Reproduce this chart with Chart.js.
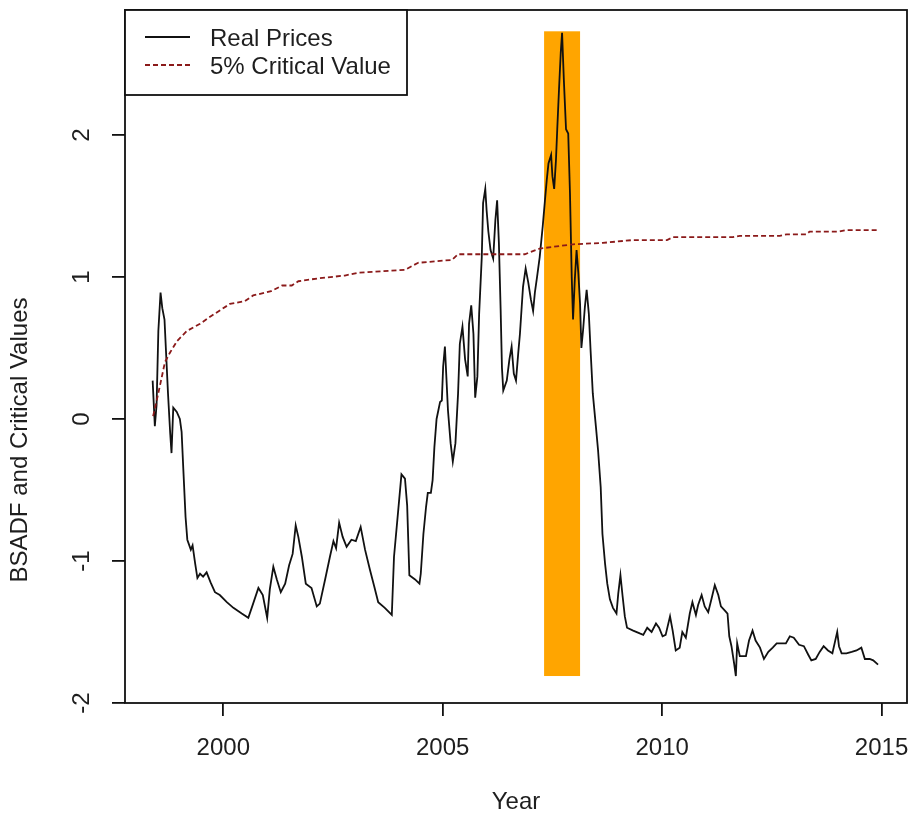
<!DOCTYPE html>
<html><head><meta charset="utf-8">
<script src="https://cdn.jsdelivr.net/npm/chart.js@4.4.1/dist/chart.umd.min.js"></script>
<style>html,body{margin:0;padding:0;background:#fff;} canvas{display:block;}</style>
</head><body>
<canvas id="c" width="914" height="822"></canvas>
<script>
const years = [1998.39,1998.44,1998.48,1998.52,1998.57,1998.61,1998.66,1998.70,1998.74,1998.79,1998.82,1998.86,1998.94,1999.01,1999.05,1999.09,1999.14,1999.18,1999.26,1999.30,1999.36,1999.41,1999.47,1999.54,1999.62,1999.71,1999.81,1999.92,2000.08,2000.23,2000.42,2000.57,2000.68,2000.80,2000.90,2001.00,2001.06,2001.14,2001.22,2001.31,2001.41,2001.50,2001.58,2001.65,2001.71,2001.79,2001.88,2002.01,2002.13,2002.20,2002.32,2002.43,2002.51,2002.57,2002.64,2002.72,2002.81,2002.92,2003.02,2003.13,2003.23,2003.34,2003.44,2003.53,2003.68,2003.84,2003.89,2003.99,2004.06,2004.14,2004.19,2004.24,2004.37,2004.47,2004.50,2004.56,2004.62,2004.66,2004.73,2004.77,2004.81,2004.86,2004.90,2004.94,2004.98,2005.01,2005.05,2005.12,2005.18,2005.23,2005.29,2005.35,2005.39,2005.45,2005.51,2005.57,2005.60,2005.65,2005.70,2005.74,2005.79,2005.83,2005.89,2005.92,2005.97,2006.00,2006.04,2006.09,2006.15,2006.20,2006.24,2006.28,2006.32,2006.35,2006.38,2006.46,2006.52,2006.57,2006.62,2006.67,2006.72,2006.76,2006.80,2006.83,2006.89,2006.95,2007.01,2007.06,2007.10,2007.15,2007.21,2007.28,2007.33,2007.37,2007.41,2007.47,2007.50,2007.54,2007.58,2007.61,2007.65,2007.69,2007.72,2007.76,2007.81,2007.86,2007.90,2007.94,2007.97,2008.01,2008.05,2008.09,2008.13,2008.16,2008.20,2008.24,2008.28,2008.33,2008.37,2008.42,2008.49,2008.54,2008.60,2008.64,2008.70,2008.75,2008.81,2008.88,2008.96,2009.00,2009.05,2009.10,2009.15,2009.20,2009.34,2009.49,2009.57,2009.66,2009.76,2009.86,2009.93,2010.01,2010.08,2010.18,2010.24,2010.31,2010.40,2010.46,2010.54,2010.63,2010.69,2010.77,2010.82,2010.90,2010.97,2011.05,2011.13,2011.20,2011.28,2011.34,2011.43,2011.49,2011.53,2011.58,2011.64,2011.68,2011.71,2011.77,2011.83,2011.91,2011.98,2012.06,2012.13,2012.23,2012.32,2012.42,2012.52,2012.61,2012.72,2012.82,2012.91,2013.00,2013.12,2013.23,2013.33,2013.40,2013.50,2013.59,2013.68,2013.78,2013.88,2013.96,2013.99,2014.03,2014.09,2014.20,2014.32,2014.43,2014.54,2014.62,2014.73,2014.81,2014.92];
const realPrices = [0.27,-0.05,0.10,0.62,0.89,0.78,0.70,0.44,0.18,-0.10,-0.24,0.08,0.05,0.00,-0.09,-0.36,-0.69,-0.85,-0.92,-0.89,-1.02,-1.12,-1.09,-1.11,-1.08,-1.15,-1.22,-1.24,-1.29,-1.33,-1.37,-1.40,-1.30,-1.19,-1.24,-1.40,-1.20,-1.04,-1.13,-1.22,-1.16,-1.03,-0.95,-0.75,-0.83,-0.97,-1.16,-1.19,-1.32,-1.30,-1.13,-0.97,-0.86,-0.91,-0.73,-0.83,-0.90,-0.85,-0.86,-0.76,-0.92,-1.06,-1.18,-1.29,-1.33,-1.38,-0.97,-0.63,-0.39,-0.42,-0.61,-1.10,-1.13,-1.16,-1.09,-0.81,-0.62,-0.52,-0.52,-0.43,-0.20,0.00,0.06,0.12,0.13,0.37,0.51,0.06,-0.17,-0.30,-0.17,0.18,0.53,0.65,0.42,0.30,0.67,0.80,0.60,0.15,0.30,0.74,1.14,1.52,1.62,1.47,1.32,1.19,1.13,1.40,1.54,1.24,0.77,0.36,0.20,0.27,0.42,0.51,0.32,0.27,0.46,0.60,0.79,0.93,1.06,0.96,0.84,0.76,0.89,1.00,1.14,1.36,1.54,1.68,1.80,1.86,1.71,1.62,1.82,2.04,2.32,2.58,2.72,2.39,2.04,2.01,1.59,1.00,0.70,0.98,1.19,1.03,0.81,0.50,0.63,0.79,0.91,0.74,0.48,0.18,-0.05,-0.22,-0.48,-0.81,-1.02,-1.16,-1.27,-1.33,-1.37,-1.23,-1.10,-1.25,-1.39,-1.47,-1.49,-1.51,-1.52,-1.47,-1.50,-1.44,-1.47,-1.53,-1.52,-1.39,-1.49,-1.63,-1.61,-1.50,-1.54,-1.37,-1.29,-1.38,-1.31,-1.24,-1.32,-1.36,-1.26,-1.17,-1.24,-1.32,-1.35,-1.37,-1.53,-1.60,-1.72,-1.81,-1.58,-1.67,-1.67,-1.67,-1.56,-1.49,-1.56,-1.61,-1.69,-1.64,-1.61,-1.58,-1.58,-1.58,-1.53,-1.54,-1.59,-1.60,-1.66,-1.70,-1.69,-1.64,-1.60,-1.63,-1.65,-1.54,-1.50,-1.60,-1.65,-1.65,-1.64,-1.63,-1.61,-1.69,-1.69,-1.70,-1.73];
const cvYears = [1998.40,1998.44,1998.56,1998.67,1998.79,1998.95,1999.17,1999.47,1999.65,1999.95,2000.15,2000.49,2000.68,2001.09,2001.34,2001.56,2001.71,2002.16,2002.77,2003.07,2004.14,2004.44,2005.21,2005.35,2006.87,2007.21,2007.97,2008.65,2009.33,2010.11,2010.25,2011.61,2011.77,2012.68,2012.84,2013.29,2013.36,2014.04,2014.20,2014.89];
const cvValues = [0.02,0.07,0.24,0.40,0.47,0.55,0.62,0.67,0.71,0.77,0.81,0.83,0.87,0.90,0.94,0.94,0.97,0.99,1.01,1.03,1.05,1.10,1.12,1.16,1.16,1.20,1.23,1.24,1.26,1.26,1.28,1.28,1.29,1.29,1.30,1.30,1.32,1.32,1.33,1.33];
const bubblePeriod = [2007.31, 2008.13];
const bubbleRange = [-1.81, 2.73];
const xTicks = [2000, 2005, 2010, 2015];
const yTicks = [-2, -1, 0, 1, 2];
const xRange = [1997.76, 2015.58];
const yRange = [-2.0, 2.88];
const legendLabels = ['Real Prices', '5% Critical Value'];
const xTitle = 'Year';
const yTitle = 'BSADF and Critical Values';

const FAMILY = '"Liberation Sans", Arial, sans-serif';
const FSIZE = 24;
const TEXT = '#1e1e1e';
const INK = '#111111';
const CV_COLOR = '#8b1a1a';

const bubblePlugin = {
  id: 'bubble',
  beforeDatasetsDraw(chart) {
    const {ctx, scales: {x, y}} = chart;
    const x0 = x.getPixelForValue(bubblePeriod[0]);
    const x1 = x.getPixelForValue(bubblePeriod[1]);
    const y0 = y.getPixelForValue(bubbleRange[1]);
    const y1 = y.getPixelForValue(bubbleRange[0]);
    ctx.save();
    ctx.fillStyle = '#FFA500';
    ctx.fillRect(x0, y0, x1 - x0, y1 - y0);
    ctx.restore();
  }
};

const decorPlugin = {
  id: 'decor',
  afterDraw(chart) {
    const {ctx, chartArea: a, scales: {y}} = chart;
    ctx.save();
    // frame
    ctx.strokeStyle = INK;
    ctx.lineWidth = 1.8;
    ctx.strokeRect(a.left, a.top, a.right - a.left, a.bottom - a.top);
    // y tick labels (rotated, R style)
    ctx.fillStyle = TEXT;
    ctx.font = FSIZE + 'px ' + FAMILY;
    ctx.textAlign = 'center';
    ctx.textBaseline = 'middle';
    yTicks.forEach(v => {
      const py = y.getPixelForValue(v);
      ctx.save();
      ctx.translate(a.left - 43, py);
      ctx.rotate(-Math.PI / 2);
      ctx.fillText(String(v), 0, 0);
      ctx.restore();
    });
    // y axis title
    ctx.save();
    ctx.translate(20, 440);
    ctx.rotate(-Math.PI / 2);
    ctx.fillText(yTitle, 0, 0);
    ctx.restore();
    // legend
    const lx = a.left, ly = a.top, lw = 282, lh = 85;
    ctx.fillStyle = '#ffffff';
    ctx.fillRect(lx, ly, lw, lh);
    ctx.strokeStyle = INK;
    ctx.lineWidth = 1.8;
    ctx.strokeRect(lx, ly, lw, lh);
    const rows = [ly + 27, ly + 55];
    ctx.strokeStyle = INK;
    ctx.setLineDash([]);
    ctx.beginPath(); ctx.moveTo(lx + 20, rows[0]); ctx.lineTo(lx + 65, rows[0]); ctx.stroke();
    ctx.strokeStyle = CV_COLOR;
    ctx.setLineDash([5, 3]);
    ctx.beginPath(); ctx.moveTo(lx + 20, rows[1]); ctx.lineTo(lx + 65, rows[1]); ctx.stroke();
    ctx.setLineDash([]);
    ctx.fillStyle = TEXT;
    ctx.textAlign = 'left';
    ctx.textBaseline = 'middle';
    ctx.fillText(legendLabels[0], lx + 85, rows[0] + 2);
    ctx.fillText(legendLabels[1], lx + 85, rows[1] + 2);
    ctx.restore();
  }
};

new Chart(document.getElementById('c').getContext('2d'), {
  type: 'line',
  data: {
    datasets: [
      {
        label: legendLabels[0],
        data: years.map((x, i) => ({x: x, y: realPrices[i]})),
        borderColor: INK, borderWidth: 1.8, pointRadius: 0, tension: 0, fill: false, order: 2
      },
      {
        label: legendLabels[1],
        data: cvYears.map((x, i) => ({x: x, y: cvValues[i]})),
        borderColor: CV_COLOR, borderWidth: 1.8, borderDash: [5, 3], pointRadius: 0, tension: 0, fill: false, order: 1
      }
    ]
  },
  options: {
    responsive: false,
    animation: false,
    devicePixelRatio: 1,
    layout: {padding: {top: 10, right: 7, left: 0, bottom: 0}},
    plugins: {legend: {display: false}, tooltip: {enabled: false}},
    scales: {
      x: {
        type: 'linear', min: xRange[0], max: xRange[1],
        afterBuildTicks: s => { s.ticks = xTicks.map(v => ({value: v})); },
        afterFit: s => { s.height = 119; s.paddingLeft = 0; s.paddingRight = 0; },
        grid: {drawOnChartArea: false, drawTicks: true, tickLength: 13, color: INK, lineWidth: 1.8},
        border: {display: false},
        ticks: {font: {family: FAMILY, size: FSIZE}, color: TEXT, padding: 18, maxRotation: 0, minRotation: 0, autoSkip: false, callback: v => String(v)},
        title: {display: true, text: xTitle, font: {family: FAMILY, size: FSIZE}, color: TEXT, padding: {top: 0, bottom: 5}}
      },
      y: {
        type: 'linear', min: yRange[0], max: yRange[1],
        afterBuildTicks: s => { s.ticks = yTicks.map(v => ({value: v})); },
        afterFit: s => { s.width = 125; s.paddingTop = 0; s.paddingBottom = 0; },
        grid: {drawOnChartArea: false, drawTicks: true, tickLength: 13, color: INK, lineWidth: 1.8},
        border: {display: false},
        ticks: {display: false},
        title: {display: false, text: yTitle}
      }
    }
  },
  plugins: [bubblePlugin, decorPlugin]
});
</script>
</body></html>
